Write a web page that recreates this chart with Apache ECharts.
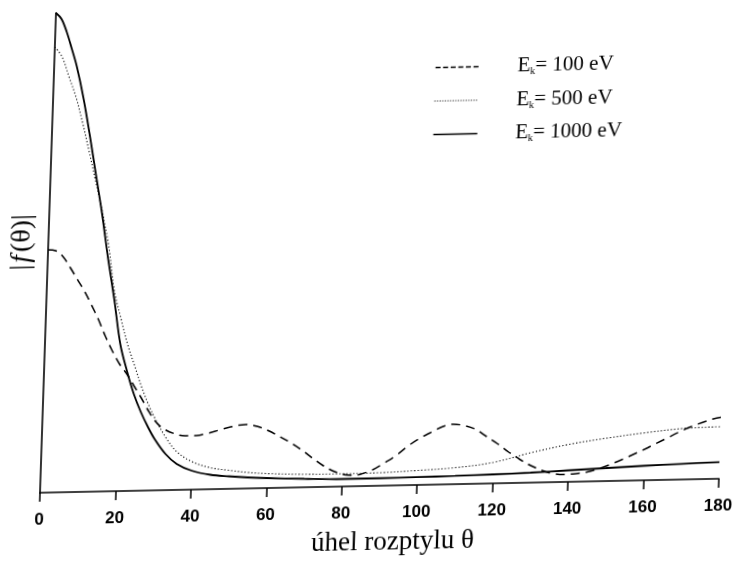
<!DOCTYPE html>
<html><head><meta charset="utf-8">
<script src="https://cdn.jsdelivr.net/npm/echarts@6/dist/echarts.min.js"></script>
<style>
html,body{margin:0;padding:0;background:#fff;overflow:hidden}
#c{width:733px;height:563px;transform-origin:39.7px 493.3px;transform:matrix(1,-0.0206,-0.0333,1,0,0);}
</style></head><body><div id="c"></div>
<script>
// x-axis tick labels (scattering angle, degrees)
const xTicks = [0, 20, 40, 60, 80, 100, 120, 140, 160, 180];
// legend: kinetic energies
const energies = ['100 eV', '500 eV', '1000 eV'];

// E_k = 100 eV (dashed)
const theta100 = [0,2,4,6,8,10,12,14,16,18,20,22,24,26,28,30,32,35,38,41,44,47,50,54,57,60,63,66,69,72,75,78,81,83,85,88,91,94,97,100,103,106,109,112,115,118,121,124,127,130,133,136,139,142,145,148,151,154,157,160,163,166,169,172,175,178,180];
const f100 = [243,242,236,225,213,201,187,172,155,140,127,117,105,93,80,69,62,56.5,54,54,56,59,62,64,62,57.5,51.5,45,37.5,29,21,15,11.5,11,12,16,22.5,29.5,38.5,46,52,57.5,60,58.5,54.5,47,39.5,31,23.5,17,12,8.5,7.5,8,9.5,12.5,16.5,21,26,31,36.5,42,47.5,52.5,56.5,60,61.5];

// E_k = 500 eV (dotted)
const theta500 = [0,2,4,6,8,10,12,14,16,18,20,22,24,26,28,30,33,36,40,45,50,55,60,70,80,90,100,110,120,130,140,150,160,170,180];
const f500 = [446,436,416,396,370,341,311,281,247,200,172,146,125,104,86,71,52,38,28,21.5,18.5,16,14.5,13,12.7,13,14.5,16.5,21,30,37.5,43,47.5,51,52];

// E_k = 1000 eV (solid)
const theta1000 = [0,1.5,3,4.5,6,8,10,12,14,16,18,20,22,24,26,28,30,33,36,40,45,50,55,60,70,80,90,100,110,120,130,140,150,160,170,180];
const f1000 = [480,474,461,444,426,395,358,318,278,233,192,147,120,97,79,64,51,36,26,19,14.5,12.5,11,10,8.5,7.5,7.5,7.8,8.3,9,10,11.5,13,14.5,15.7,16.6];

const pairs = (xs, ys) => xs.map((x, i) => [x, ys[i]]);

const chart = echarts.init(document.getElementById('c'), null, {renderer: 'canvas'});
const serif = '"Liberation Serif", "Times New Roman", serif';
chart.setOption({
  backgroundColor: 'transparent',
  animation: false,
  color: ['#000', '#000', '#000'],
  grid: {left: 40, right: 14, top: 13, bottom: 70, containLabel: false, outerBoundsMode: 'none'},
  legend: {
    left: 421, top: 65, orient: 'vertical', itemGap: 12, padding: 0,
    itemWidth: 44, itemHeight: 10,
    itemStyle: {opacity: 0},
    data: [
      {name: energies[0], lineStyle: {type: [5, 2.6], width: 1.3}},
      {name: energies[1], lineStyle: {type: [1, 1.6], width: 1}},
      {name: energies[2], lineStyle: {width: 1.4}}
    ],
    formatter: n => '{sp|}{e|E}{k|k}{e|= ' + n + '}',
    textStyle: {
      color: '#000',
      rich: {
        sp: {width: 33},
        e: {fontFamily: serif, fontSize: 21, lineHeight: 22, color: '#000'},
        k: {fontFamily: serif, fontSize: 10, lineHeight: 10, verticalAlign: 'bottom', color: '#000'}
      }
    }
  },
  xAxis: {
    type: 'value', min: xTicks[0], max: xTicks[xTicks.length - 1], interval: 20,
    axisLine: {lineStyle: {color: '#000', width: 1.6}},
    axisTick: {show: true, length: 9, lineStyle: {color: '#000', width: 1.5}},
    axisLabel: {
      margin: 19, color: '#000', fontSize: 17, fontWeight: 'bold',
      fontFamily: '"Liberation Sans Narrow", "Arial Narrow", "Liberation Sans", Arial, sans-serif',
      formatter: v => xTicks.includes(v) ? String(v) : ''
    },
    splitLine: {show: false},
    name: 'úhel rozptylu θ', nameLocation: 'middle', nameGap: 43,
    nameTextStyle: {fontFamily: serif, fontSize: 27, color: '#000', padding: [0, 0, 0, 30]}
  },
  yAxis: {
    type: 'value', min: 0, max: 480,
    axisLine: {show: true, lineStyle: {color: '#000', width: 1.6}},
    axisTick: {show: false}, axisLabel: {show: false}, splitLine: {show: false},
    name: '{b||}{i|f}{b|(θ)|}', nameLocation: 'middle', nameRotate: 90, nameGap: 12,
    nameTextStyle: {
      padding: [0, 0, 0, 22],
      rich: {
        b: {fontFamily: serif, fontSize: 28, color: '#000'},
        i: {fontFamily: serif, fontSize: 28, fontStyle: 'italic', color: '#000', padding: [0, 3, 0, 2]}
      }
    }
  },
  series: [
    {name: energies[0], type: 'line', data: pairs(theta100, f100), showSymbol: false, symbol: 'none', smooth: 0.35,
     itemStyle: {color: '#000'}, lineStyle: {color: '#000', width: 1.5, type: [9, 6]}},
    {name: energies[1], type: 'line', data: pairs(theta500, f500), showSymbol: false, symbol: 'none', smooth: 0.35,
     itemStyle: {color: '#000'}, lineStyle: {color: '#000', width: 1.1, type: [1.2, 2.2]}},
    {name: energies[2], type: 'line', data: pairs(theta1000, f1000), showSymbol: false, symbol: 'none', smooth: 0.35,
     itemStyle: {color: '#000'}, lineStyle: {color: '#000', width: 1.8}}
  ]
});
</script></body></html>
